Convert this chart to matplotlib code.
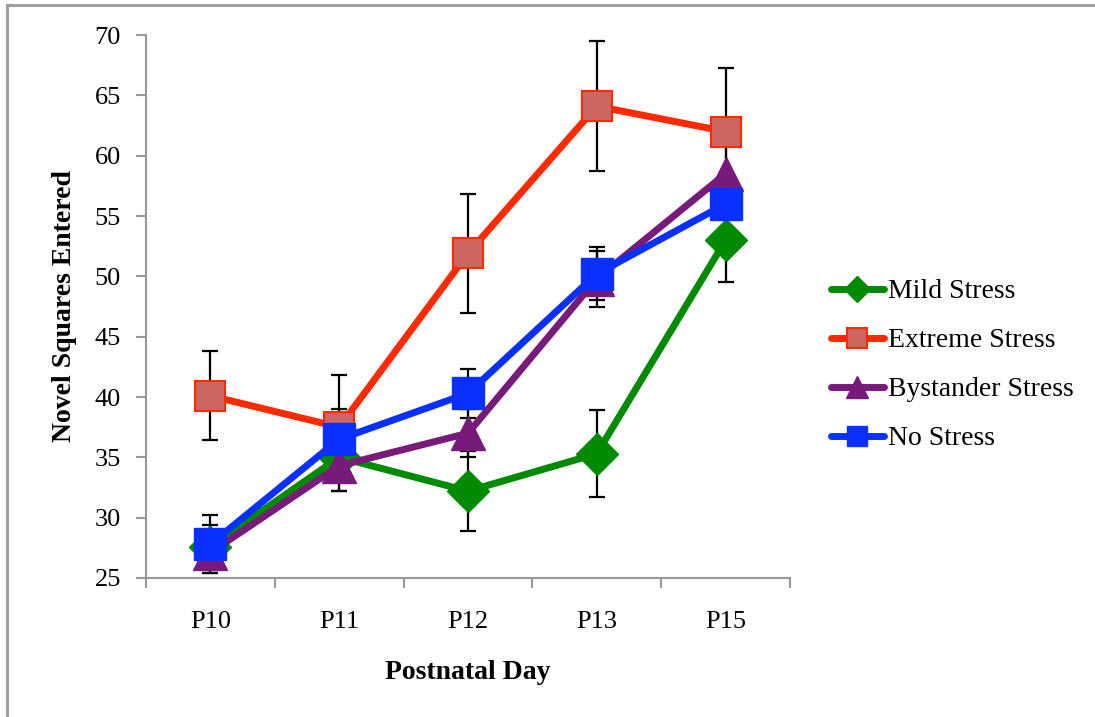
import matplotlib.pyplot as plt
from matplotlib.lines import Line2D

days = ["P10", "P11", "P12", "P13", "P15"]

mild = [27.6, 35.0, 32.2, 35.3, 53.0]
mild_err = [1.8, 2.8, 3.3, 3.6, 3.5]
extreme = [40.1, 37.5, 51.9, 64.1, 62.0]
extreme_err = [3.7, 4.3, 4.9, 5.4, 5.3]
bystander = [27.1, 34.3, 37.0, 49.8, 58.5]
bystander_err = [1.7, 2.1, 2.0, 2.3, 2.5]
nostress = [27.8, 36.5, 40.3, 50.2, 56.0]
nostress_err = [2.4, 2.5, 2.0, 2.2, 2.4]

plt.rcParams['font.family'] = 'Liberation Serif'

W, H = 1095, 717
fig = plt.figure(figsize=(W / 100, H / 100), dpi=100)
ax = fig.add_axes([146 / W, 1 - 578 / H, (790 - 146) / W, (578 - 35) / H])

# grey frame: top and left edges only
frame = dict(transform=fig.transFigure, color='#a0a0a0', linewidth=2.2)
fig.add_artist(Line2D([7 / W, 1], [1 - 5 / H, 1 - 5 / H], **frame))
fig.add_artist(Line2D([7 / W, 7 / W], [0, 1 - 5 / H], **frame))

x = list(range(len(days)))

series = [
    ("Mild Stress", mild, mild_err, dict(color='#008a00', marker='D', markersize=21,
                                          markerfacecolor='#008a00', markeredgecolor='#008a00')),
    ("Extreme Stress", extreme, extreme_err, dict(color='#ff2a00', marker='s', markersize=22,
                                                   markerfacecolor='#cc6660', markeredgecolor='#ff2a00',
                                                   markeredgewidth=1.5)),
    ("Bystander Stress", bystander, bystander_err, dict(color='#771a7a', marker='^', markersize=25,
                                                         markerfacecolor='#771a7a', markeredgecolor='#771a7a')),
    ("No Stress", nostress, nostress_err, dict(color='#0a30ff', marker='s', markersize=23,
                                                markerfacecolor='#0a30ff', markeredgecolor='#0a30ff')),
]

for label, vals, errs, style in series:
    ax.errorbar(x, vals, yerr=errs, fmt='none', ecolor='black', elinewidth=1.6,
                capsize=6, capthick=1.6, zorder=1)

for z, (label, vals, errs, style) in enumerate(series):
    ax.plot(x, vals, linewidth=5, solid_capstyle='round', label=label, zorder=2 + z, **style)

ax.set_xlim(-0.5, 4.5)
ax.set_ylim(25, 70)
ax.set_yticks(range(25, 71, 5))
ax.set_xticks(x)
ax.set_xticklabels(days)
ax.set_xticks([i - 0.5 for i in range(6)], minor=True)

for side in ['top', 'right']:
    ax.spines[side].set_visible(False)
for side in ['left', 'bottom']:
    ax.spines[side].set_color('#999999')
    ax.spines[side].set_linewidth(1.5)

ax.tick_params(axis='y', direction='out', length=7, width=1.5, color='#999999',
               labelsize=19, pad=11)
ax.tick_params(axis='x', which='major', length=0, labelsize=19, pad=24)
ax.tick_params(axis='x', which='minor', direction='out', length=7, width=1.5, color='#999999')

ax.set_xlabel("Postnatal Day", fontsize=20, fontweight='bold', labelpad=19)
ax.set_ylabel("Novel Squares Entered", fontsize=20, fontweight='bold', labelpad=13)

ax.legend(loc='center left', bbox_to_anchor=(1.025, 0.392), frameon=False,
          fontsize=20, handlelength=1.9, handletextpad=0.15, labelspacing=0.85,
          markerscale=0.65)

fig.savefig("out.png", dpi=100)
